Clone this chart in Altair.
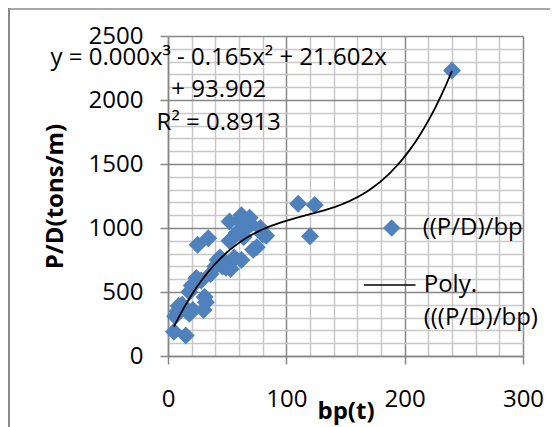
import altair as alt
import pandas as pd

# ---- data ----
BP = [5, 15, 6, 9, 12, 8, 18, 21, 30, 32,
      31, 18, 22, 24, 28, 20, 25, 34, 36, 40,
      42, 44, 46, 49, 52, 53, 56, 52, 52, 58,
      60, 62, 64, 66, 69, 70, 72, 75, 78, 80,
      83, 62, 110, 124, 120, 240]
PD = [190, 160, 310, 390, 400, 350, 330, 360, 360, 420,
      460, 500, 560, 610, 590, 550, 870, 920, 640, 700,
      750, 770, 700, 690, 720, 680, 770, 900, 1050, 960,
      1060, 1100, 930, 1000, 1080, 1030, 830, 850, 1000, 950,
      940, 750, 1190, 1180, 935, 2230]
SERIES_POINTS = "((P/D)/bp"
SERIES_FIT = "Poly. (((P/D)/bp)"
FIT_LABEL_LINES = ["Poly.", "(((P/D)/bp)"]
EQ_LINES = ["y = 0.000x\u00b3 - 0.165x\u00b2 + 21.602x", "+ 93.902", "R\u00b2 = 0.8913"]
X_MAJOR = [0, 100, 200, 300]
X_MINOR = [v for v in range(0, 301, 20) if v % 100 != 0]
Y_MAJOR = [0, 500, 1000, 1500, 2000, 2500]
Y_MINOR = [v for v in range(0, 2501, 100) if v % 500 != 0]

FONT = "Open Sans"
BLUE = "#4F81BD"
MAJ = "#868686"
MIN = "#C8C8C8"
FS = 24

df = pd.DataFrame({"bp": BP, "pd": PD, "series": [SERIES_POINTS] * len(BP)})
base = alt.Chart(df)

xscale = alt.Scale(domain=[0, 300], nice=False, zero=False)
yscale = alt.Scale(domain=[0, 2500], nice=False, zero=False)

# minor gridlines (invisible marks carrying grid-only axes)
minor = base.mark_point(opacity=0).encode(
    x=alt.X("bp:Q", scale=xscale, axis=alt.Axis(values=X_MINOR, grid=True, gridColor=MIN, gridWidth=1.5,
                                                 domain=False, ticks=False, labels=False, title=None, orient="bottom")),
    y=alt.Y("pd:Q", scale=yscale, axis=alt.Axis(values=Y_MINOR, grid=True, gridColor=MIN, gridWidth=1.5,
                                                 domain=False, ticks=False, labels=False, title=None, orient="left")),
)

points = base.mark_point(shape="diamond", filled=True, size=324, opacity=1, strokeWidth=0).encode(
    x=alt.X("bp:Q", scale=xscale, axis=alt.Axis(
        values=X_MAJOR, grid=True, gridColor=MAJ, gridWidth=1.5, domainColor=MAJ, domainWidth=1.5,
        tickColor=MAJ, tickWidth=1.5, tickSize=8, labelFont=FONT, labelFontSize=FS, labelColor="black",
        labelPadding=23, labelFlush=False, labelOverlap=False, format="d",
        title="bp(t)", titleFont=FONT, titleFontSize=24, titleFontWeight="bold", titleColor="black",
        titleX=177.5, titleY=55, titleBaseline="middle", titleAlign="center", orient="bottom")),
    y=alt.Y("pd:Q", scale=yscale, axis=alt.Axis(
        values=Y_MAJOR, grid=True, gridColor=MAJ, gridWidth=1.5, domainColor=MAJ, domainWidth=1.5,
        tickColor=MAJ, tickWidth=1.5, tickSize=8, labelFont=FONT, labelFontSize=FS, labelColor="black",
        labelPadding=17, labelFlush=False, labelOverlap=False, format="d",
        title="P/D(tons/m)", titleFont=FONT, titleFontSize=24, titleFontWeight="bold", titleColor="black",
        titleX=-113, titleY=160, titleAngle=270, titleBaseline="middle", titleAlign="center", orient="left")),
    color=alt.Color("series:N", scale=alt.Scale(domain=[SERIES_POINTS], range=[BLUE]), legend=alt.Legend(
        orient="none", legendX=211.7, legendY=180, title=None, padding=0, labelFont=FONT, labelFontSize=FS,
        labelColor="black", labelOffset=19, symbolSize=300, symbolType="diamond", symbolOpacity=1,
        symbolStrokeWidth=0, labelLimit=300)),
)

fit = base.transform_regression("bp", "pd", method="poly", order=3, extent=[5, 240]).transform_calculate(
    series="'" + SERIES_FIT + "'"
).mark_line(strokeWidth=1.8).encode(
    x=alt.X("bp:Q", scale=xscale, axis=None),
    y=alt.Y("pd:Q", scale=yscale, axis=None),
    color=alt.Color("series:N", scale=alt.Scale(domain=[SERIES_FIT], range=["black"]), legend=alt.Legend(
        orient="none", legendX=194.7, legendY=222, title=None, padding=0, labelFont=FONT, labelFontSize=FS,
        labelColor="black", labelOffset=7, symbolSize=2663, symbolType="M-1,0L1,0",
        symbolStrokeWidth=1.5, labelLimit=300,
        labelExpr="['" + FIT_LABEL_LINES[0] + "', '" + FIT_LABEL_LINES[1] + "']")),
)

one = alt.Data(values=[{"k": 0}])
left_border = alt.Chart(one).mark_rule(color="#8C8C8C", strokeWidth=2).encode(
    x=alt.value(-159), y=alt.value(-28), y2=alt.value(400))
top_border = alt.Chart(one).mark_rule(color="#8C8C8C", strokeWidth=1.5).encode(
    x=alt.value(-160), x2=alt.value(390), y=alt.value(-27))
equation = alt.Chart(one).mark_text(text=EQ_LINES, lineHeight=32.5, fontSize=FS, font=FONT, align="center",
                                    baseline="middle", color="black").encode(
    x=alt.value(50.7), y=alt.value(21.5))

chart = alt.layer(minor, points, fit, left_border, top_border, equation).resolve_scale(
    color="independent").resolve_axis(x="independent", y="independent").properties(
    width=355, height=320,
    padding={"left": 160, "top": 28, "right": 27, "bottom": 71},
    autosize=alt.AutoSizeParams(type="none"),
).configure(style={"guide-label": {"lineHeight": 33}}).configure_view(stroke=None)

chart.save("out.html", embed_options={"renderer": "svg", "actions": False})
